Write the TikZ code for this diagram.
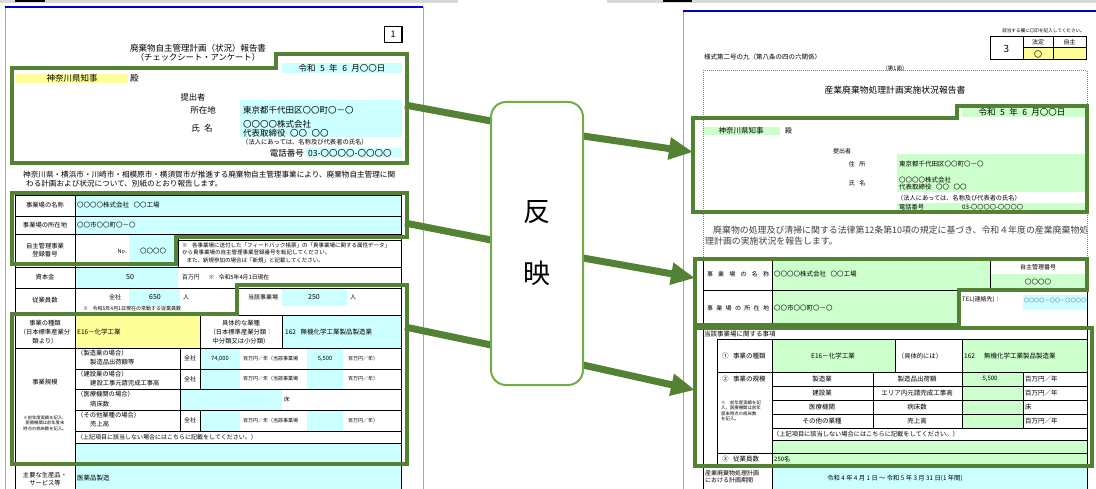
\documentclass[tikz,border=0pt]{standalone}
\usepackage{fontspec}
\setmainfont{Noto Sans CJK JP}
\usetikzlibrary{arrows.meta}
\definecolor{ngreen}{RGB}{84,130,53}
\definecolor{lgreen}{RGB}{112,173,71}
\definecolor{cyanc}{RGB}{204,255,255}
\definecolor{yellowc}{RGB}{255,255,153}
\definecolor{mintc}{RGB}{204,255,204}
\definecolor{pagetop}{RGB}{0,0,204}
\definecolor{pageside}{RGB}{153,153,255}
\definecolor{barg}{RGB}{217,217,217}
\definecolor{telc}{RGB}{90,110,170}
\newcommand{\fsz}[1]{\fontsize{#1}{#1}\selectfont}
\newcommand{\gp}{\hspace{4.5pt}}

\begin{document}
\begin{tikzpicture}[x=1pt, y=-1pt, line join=miter]
    \tikzstyle{txt}=[inner sep=0pt, font=\fsz{6.5}]
    \tikzstyle{txtw}=[txt, anchor=west]
    \tikzstyle{txte}=[txt, anchor=east]
    \tikzstyle{tline}=[draw=black, line width=0.6pt]
    \tikzstyle{gbox}=[draw=ngreen, line width=4pt]
    \tikzstyle{link}=[draw=ngreen, line width=7pt]
    \tikzstyle{linkarr}=[link, -{Triangle[length=24pt,width=21pt]}]
    \tikzstyle{fanbox}=[draw=lgreen, line width=2pt, fill=white, rounded corners=15pt,
                        minimum width=92pt, minimum height=283pt, inner sep=0pt, align=center]

    \useasboundingbox (0,0) rectangle (1096,489);

    % page frames
    \fill[barg] (0,0) rectangle (458,3);
    \fill[black] (15,0) rectangle (45,2);
    \fill[barg] (607,0) rectangle (1096,3);
    \fill[black] (663,0) rectangle (692,2);
    \draw[pageside, line width=1pt] (5,7) -- (5,489) (423,7) -- (423,489) (683,11) -- (683,489);
    \draw[pagetop, line width=1.2pt] (5,7) -- (423,7) (683,11) -- (1096,11);

    % left sheet: fills
    \fill[cyanc] (282,63) rectangle (402,73);
    \fill[yellowc] (15,74) rectangle (128,83);
    \fill[cyanc] (240,100) rectangle (402,137);
    \fill[cyanc] (306,148) rectangle (402,158);
    \fill[cyanc] (75,195) rectangle (401,234);
    \fill[cyanc] (129,234) rectangle (178,267);
    \fill[cyanc] (75,267) rectangle (178,288);
    \fill[cyanc] (129,288) rectangle (180,306);
    \fill[cyanc] (282,288) rectangle (347,306);
    \fill[yellowc] (76,315) rectangle (200,348);
    \fill[cyanc] (282,315) rectangle (401,348);
    \fill[cyanc] (200,348) rectangle (240,369);
    \fill[cyanc] (307,348) rectangle (343,369);
    \fill[cyanc] (200,369) rectangle (240,389);
    \fill[cyanc] (307,369) rectangle (343,389);
    \fill[cyanc] (180,389) rectangle (282,410);
    \fill[cyanc] (200,410) rectangle (240,431);
    \fill[cyanc] (307,410) rectangle (343,431);
    \fill[cyanc] (75,443) rectangle (401,489);

    % left sheet: rules
    \draw[tline] (15,195) -- (401,195) (15,216) -- (401,216) (15,234) -- (401,234) (15,267) -- (401,267)
                 (15,288) -- (401,288) (15,315) -- (401,315) (15,348) -- (401,348) (15,463) -- (401,463);
    \draw[tline] (75,369) -- (401,369) (75,389) -- (401,389) (75,410) -- (401,410) (75,431) -- (401,431) (75,443) -- (401,443);
    \draw[tline] (15,195) -- (15,489) (75,195) -- (75,489) (401,195) -- (401,489);
    \draw[tline] (178,234) -- (178,267) (178,240) -- (401,240) (237,288) -- (237,315) (200,315) -- (200,348) (282,315) -- (282,348)
                 (180,348) -- (180,431) (200,348) -- (200,389) (200,410) -- (200,431);

    % left sheet: head
    \node[draw, line width=0.6pt, minimum width=17pt, minimum height=16pt, inner sep=0pt, font=\fsz{9}] (pgno) at (393,34) {1};
    \draw[line width=1.5pt] (pgno.north east) -- (pgno.south east) -- (pgno.south west);
    \node[txt, font=\fsz{8.5}] (lttl) at (198,48) {廃棄物自主管理計画（状況）報告書};
    \node[txt, font=\fsz{8.3}] (lsub) at (198,57) {（チェックシート・アンケート）};
    \node[txt, font=\fsz{8.5}] (ldate) at (342,68) {令和\gp 5\gp 年\gp 6\gp 月〇〇日};
    \node[txt, font=\fsz{8.5}] (lgov) at (72,78.5) {神奈川県知事};
    \node[txtw, font=\fsz{8.5}] (ldono) at (130,78.5) {殿};
    \node[txt, font=\fsz{8.3}] (lsubm) at (193,97) {提出者};
    \node[txt, font=\fsz{8.5}] (laddk) at (203,110) {所在地};
    \node[txt, font=\fsz{8.5}] (lnamek) at (202,128) {氏\gp 名};
    \node[txtw, font=\fsz{8.5}] (laddv) at (243,110) {東京都千代田区〇〇町〇－〇};
    \node[txtw, font=\fsz{8.5}] (lco) at (243,124) {〇〇〇〇株式会社};
    \node[txtw, font=\fsz{8.5}] (lrep) at (243,133) {代表取締役\gp 〇〇\gp 〇〇};
    \node[txtw, font=\fsz{6.3}] (lcorp) at (242,142) {（法人にあっては、名称及び代表者の氏名）};
    \node[txte, font=\fsz{8.5}] (ltelk) at (304,153) {電話番号};
    \node[txtw, font=\fsz{8.5}] (ltelv) at (308,153) {03-〇〇〇〇-〇〇〇〇};
    \node[txtw, font=\fsz{7.6}] (lpar1) at (23,175) {神奈川県・横浜市・川崎市・相模原市・横須賀市が推進する廃棄物自主管理事業により、廃棄物自主管理に関};
    \node[txtw, font=\fsz{7.6}] (lpar2) at (26,184) {わる計画および状況について、別紙のとおり報告します。};

    % left sheet: table text
    \node[txt, font=\fsz{6.3}] (lnm) at (45,205.5) {事業場の名称};
    \node[txtw] (lnmv) at (77,205.5) {〇〇〇〇株式会社\gp 〇〇工場};
    \node[txt, font=\fsz{6.3}] (lloc) at (45,225) {事業場の所在地};
    \node[txtw] (llocv) at (77,225) {〇〇市〇〇町〇－〇};
    \node[txt, align=center, font={\fontsize{6.3}{8}\selectfont}] (lreg) at (45,250) {自主管理事業\\登録番号};
    \node[txt, font=\fsz{5.5}] (lno) at (122,252) {No.};
    \node[txt] (lnov) at (153,251) {〇〇〇〇};
    \node[txtw, font=\fsz{5.5}] (lnote1) at (182,245) {※\gp 各事業場に送付した「フィードバック帳票」の「貴事業場に関する属性データ」};
    \node[txtw, font=\fsz{5.5}] (lnote2) at (182,252.5) {から貴事業場の自主管理事業登録番号を転記してください。};
    \node[txtw, font=\fsz{5.5}] (lnote3) at (182,260) {\gp また、新規参加の場合は「新規」と記載してください。};
    \node[txt, font=\fsz{6.3}] (lcap) at (45,277) {資本金};
    \node[txt, font=\fsz{7}] (lcapv) at (130,277) {50};
    \node[txtw, font=\fsz{5.8}] (lcapu) at (182,277) {百万円\gp\gp ※\gp 令和5年4月1日現在};
    \node[txt, font=\fsz{6.3}] (lemp) at (45,300) {従業員数};
    \node[txt, font=\fsz{6}] (lall) at (115,297) {全社};
    \node[txt, font=\fsz{7}] (lallv) at (155,297) {650};
    \node[txtw, font=\fsz{6}] (lallu) at (183,297) {人};
    \node[txtw, font=\fsz{5}] (lempn) at (83,309) {※\gp 令和5年4月1日現在の常勤する従業員数};
    \node[txt, font=\fsz{6}] (lsite) at (263,297) {当該事業場};
    \node[txt, font=\fsz{7}] (lsitev) at (314,297) {250};
    \node[txtw, font=\fsz{6}] (lsiteu) at (350,297) {人};
    \node[txt, align=center, font={\fontsize{6.3}{9}\selectfont}] (lkind) at (45,332) {事業の種類\\（日本標準産業分\\類より）};
    \node[txtw] (lkindv) at (77,332) {E16－化学工業};
    \node[txt, align=center, font={\fontsize{6.3}{9}\selectfont}] (lspec) at (241,332) {具体的な業種\\（日本標準産業分類：\\中分類又は小分類）};
    \node[txtw] (lspecv) at (285,332) {162\gp 無機化学工業製品製造業};
    \node[txt, font=\fsz{6.3}] (lscale) at (45,382) {事業規模};
    \node[txt, align=center, font={\fontsize{4.3}{5.5}\selectfont}] (lscalen) at (45,423) {※前年度実績を記入、\\医療機関は前年度末\\時点の病床数を記入。};
    \node[txtw, font=\fsz{6.3}] (lm1) at (77,353) {（製造業の場合）};
    \node[txtw, font=\fsz{6.3}] (lm2) at (90,362) {製造品出荷額等};
    \node[txtw, font=\fsz{6.3}] (lc1) at (77,374) {（建設業の場合）};
    \node[txtw, font=\fsz{6.3}] (lc2) at (90,383) {建設工事元請完成工事高};
    \node[txtw, font=\fsz{6.3}] (lh1) at (77,394) {（医療機関の場合）};
    \node[txtw, font=\fsz{6.3}] (lh2) at (90,404) {病床数};
    \node[txtw, font=\fsz{6.3}] (lo1) at (77,415) {（その他業種の場合）};
    \node[txtw, font=\fsz{6.3}] (lo2) at (90,424) {売上高};
    \node[txt, font=\fsz{6}] (lma) at (190,358.5) {全社};
    \node[txt, font=\fsz{6}] (lca) at (190,379) {全社};
    \node[txt, font=\fsz{6}] (loa) at (190,420.5) {全社};
    \node[txt, font=\fsz{5.8}] (lmav) at (220,358.5) {74,000};
    \node[txtw, font=\fsz{5}] (lmau) at (243,358.5) {百万円／年（当該事業場};
    \node[txtw, font=\fsz{5}] (lcau) at (243,379) {百万円／年（当該事業場};
    \node[txtw, font=\fsz{5}] (loau) at (243,420.5) {百万円／年（当該事業場};
    \node[txt, font=\fsz{5.8}] (lmsv) at (325,358.5) {5,500};
    \node[txtw, font=\fsz{5}] (lmsu) at (348,358.5) {百万円／年）};
    \node[txtw, font=\fsz{5}] (lcsu) at (348,379) {百万円／年）};
    \node[txtw, font=\fsz{5}] (losu) at (348,420.5) {百万円／年）};
    \node[txtw, font=\fsz{5.5}] (lbed) at (284,399.5) {床};
    \node[txtw, font=\fsz{6}] (lelse) at (77,437) {（上記項目に該当しない場合にはこちらに記載をしてください。）};
    \node[txt, align=center, font={\fontsize{6.3}{8.5}\selectfont}] (lprod) at (45,479) {主要な生産品・\\サービス等};
    \node[txtw] (lprodv) at (77,478) {医薬品製造};

    % right sheet: fills
    \fill[mintc] (962,107) rectangle (1085,117);
    \fill[mintc] (703,127) rectangle (780,135);
    \fill[mintc] (897,154) rectangle (1087,192);
    \fill[mintc] (897,203) rectangle (1087,212);
    \fill[mintc] (772,258) rectangle (990,290);
    \fill[mintc] (990,274) rectangle (1087,290);
    \fill[mintc] (772,290) rectangle (959,327);
    \fill[cyanc] (1023,295) rectangle (1087,310);
    \fill[mintc] (772,339) rectangle (895,372);
    \fill[mintc] (962,339) rectangle (1087,372);
    \fill[mintc] (962,372) rectangle (1023,428);
    \fill[mintc] (772,440) rectangle (1087,465);
    \fill[cyanc] (772,465) rectangle (1087,489);
    \fill[yellowc] (1023,47) rectangle (1086,60);

    % right sheet: rules
    \draw[gray, densely dotted, line width=1pt] (703,489) -- (703,71) -- (1087,71) -- (1087,489);
    \draw[tline] (703,258) -- (1087,258) (703,290) -- (1087,290) (703,327) -- (1087,327) (717,339) -- (1087,339)
                 (717,372) -- (1087,372) (772,386) -- (1087,386) (772,400) -- (1087,400) (772,414) -- (1087,414)
                 (772,428) -- (1087,428) (772,440) -- (1087,440) (717,453) -- (1087,453) (703,465) -- (1087,465);
    \draw[tline] (703,258) -- (703,489) (772,258) -- (772,327) (990,258) -- (990,290) (959,290) -- (959,327)
                 (1087,258) -- (1087,489) (717,339) -- (717,465) (772,339) -- (772,489) (895,339) -- (895,372)
                 (962,339) -- (962,372) (873,372) -- (873,428) (962,372) -- (962,428) (1023,372) -- (1023,428);
    \draw[line width=1pt] (990,37) rectangle (1086,60);
    \draw[tline] (1023,37) -- (1023,60) (1053,37) -- (1053,60) (1023,47) -- (1086,47);

    % right sheet: head
    \node[txte, font=\fsz{4.6}] (rhint) at (1085,31) {該当する欄に〇印を記入してください。};
    \node[txt, font=\fsz{10}] (rno) at (1006.5,48.5) {3};
    \node[txt, font=\fsz{6}] (rlaw) at (1038,42) {法定};
    \node[txt, font=\fsz{6}] (rvol) at (1069.5,42) {自主};
    \node[txt, font=\fsz{8}] (rmark) at (1038,54) {〇};
    \node[txtw, font=\fsz{6.5}] (rform) at (704,57) {様式第二号の九（第八条の四の六関係）};
    \node[txt, font=\fsz{5.5}] (rface) at (895,68) {（第1面）};
    \node[txt, font=\fsz{8.8}] (rttl) at (895,90) {産業廃棄物処理計画実施状況報告書};
    \node[txt, font=\fsz{8.5}] (rdate) at (1022,112) {令和\gp 5\gp 年\gp 6\gp 月〇〇日};
    \node[txt, font=\fsz{7.5}] (rgov) at (741,131) {神奈川県知事};
    \node[txtw, font=\fsz{7}] (rdono) at (785,131) {殿};
    \node[txt, font=\fsz{6}] (rsubm) at (842,151) {提出者};
    \node[txt, font=\fsz{6}] (raddk) at (857,164) {住\gp 所};
    \node[txt, font=\fsz{6}] (rnamek) at (857,183) {氏\gp 名};
    \node[txtw, font=\fsz{6.5}] (raddv) at (899,164) {東京都千代田区〇〇町〇－〇};
    \node[txtw, font=\fsz{6.5}] (rco) at (899,180) {〇〇〇〇株式会社};
    \node[txtw, font=\fsz{6.5}] (rrep) at (899,187) {代表取締役\gp 〇〇\gp 〇〇};
    \node[txtw, font=\fsz{6.2}] (rcorp) at (897,198) {（法人にあっては、名称及び代表者の氏名）};
    \node[txtw, font=\fsz{6.2}] (rtelk) at (899,207) {電話番号};
    \node[txtw, font=\fsz{6.2}] (rtelv) at (962,207) {03-〇〇〇〇-〇〇〇〇};
    \node[txtw, font=\fsz{8.9}, text=black!75] (rpar1) at (705,230) {\hspace{8pt}廃棄物の処理及び清掃に関する法律第12条第10項の規定に基づき、令和４年度の産業廃棄物処};
    \node[txtw, font=\fsz{8.9}, text=black!75] (rpar2) at (705,241) {理計画の実施状況を報告します。};

    % right sheet: table text
    \node[txt, font=\fsz{6}] (rnm) at (738,274) {\hbox to 62pt{事\hfil 業\hfil 場\hfil の\hfil 名\hfil 称}};
    \node[txt, font=\fsz{6}] (rloc) at (738,308) {\hbox to 62pt{事\hfil 業\hfil 場\hfil の\hfil 所\hfil 在\hfil 地}};
    \node[txtw] (rnmv) at (774,274) {〇〇〇〇株式会社\gp 〇〇工場};
    \node[txtw] (rlocv) at (774,308) {〇〇市〇〇町〇－〇};
    \node[txt, font=\fsz{6}] (rreg) at (1038,267) {自主管理番号};
    \node[txt] (rregv) at (1038,282) {〇〇〇〇};
    \node[txtw, font=\fsz{6}] (rtel) at (962,300) {TEL(連絡先)：};
    \node[txt, font=\fsz{5.2}, text=telc] (rtelv2) at (1055,301) {〇〇〇〇－〇〇－〇〇〇〇};
    \node[txtw, font=\fsz{6.5}] (rsite) at (704,334) {当該事業場に関する事項};
    \node[txtw, font=\fsz{6.5}] (rkind) at (722,356) {①\gp 事業の種類};
    \node[txt] (rkindv) at (833,356) {E16－化学工業};
    \node[txt, font=\fsz{6.3}] (rspec) at (920,356) {（具体的には）};
    \node[txtw] (rspecv) at (964,356) {162\gp\gp 無機化学工業製品製造業};
    \node[txtw, font=\fsz{6.5}] (rscale) at (722,379) {②\gp 事業の規模};
    \node[txtw, align=left, font={\fontsize{4.4}{5.4}\selectfont}] (rscalen) at (721,411) {※\gp 前年度実績を記\\入、医療機関は前年\\度末時点の病床数\\を記入。};
    \node[txt] (rm1) at (822,379) {製造業};
    \node[txt] (rm2) at (917,379) {製造品出荷額};
    \node[txt, font=\fsz{6}] (rm3) at (990,379) {5,500};
    \node[txtw] (rm4) at (1025,379) {百万円／年};
    \node[txt] (rc1) at (822,393) {建設業};
    \node[txt] (rc2) at (917,393) {エリア内元請完成工事高};
    \node[txtw] (rc4) at (1025,393) {百万円／年};
    \node[txt] (rh1) at (822,407) {医療機関};
    \node[txt] (rh2) at (917,407) {病床数};
    \node[txtw] (rh4) at (1025,407) {床};
    \node[txt] (ro1) at (822,421) {その他の業種};
    \node[txt] (ro2) at (917,421) {売上高};
    \node[txtw] (ro4) at (1025,421) {百万円／年};
    \node[txtw, font=\fsz{6.2}] (relse) at (773,434) {（上記項目に該当しない場合にはこちらに記載をしてください。）};
    \node[txtw, font=\fsz{6.5}] (remp) at (722,459) {③\gp 従業員数};
    \node[txtw, font=\fsz{6}] (rempv) at (774,459) {250名};
    \node[txtw, align=left, font={\fontsize{6}{7.2}\selectfont}] (rterm) at (705,477) {産業廃棄物処理計画\\における計画期間};
    \node[txt, font=\fsz{6.3}] (rtermv) at (895,478) {令和 4 年 4 月 1 日 ～ 令和 5 年 3 月 31 日(1 年間)};

    % green outlines
    \draw[gbox] (12,68) -- (276,68) -- (276,54) -- (407,54) -- (407,163) -- (12,163) -- cycle;
    \draw[gbox] (12,193) -- (407,193) -- (407,237) -- (176,237) -- (176,264) -- (12,264) -- cycle;
    \draw[gbox] (237,285) -- (407,285) -- (407,464) -- (12,464) -- (12,314) -- (237,314) -- cycle;
    \draw[gbox] (693,118) -- (957,118) -- (957,106) -- (1087,106) -- (1087,212) -- (693,212) -- cycle;
    \draw[gbox] (695,259) -- (1087,259) -- (1087,290) -- (959,290) -- (959,325) -- (695,325) -- cycle;
    \draw[gbox] (695,328) rectangle (1092,466);

    % links through the centre box
    \coordinate (s1) at (405,105); \coordinate (t1) at (491,121);
    \coordinate (u1) at (583,136); \coordinate (e1) at (693,152);
    \coordinate (s2) at (405,223); \coordinate (t2) at (491,240);
    \coordinate (u2) at (583,258); \coordinate (e2) at (695,278);
    \coordinate (s3) at (405,327); \coordinate (t3) at (491,345);
    \coordinate (u3) at (583,365); \coordinate (e3) at (695,390);
    \draw[link] (s1) -- (t1);
    \draw[link] (s2) -- (t2);
    \draw[link] (s3) -- (t3);
    \draw[linkarr] (u1) -- (e1);
    \draw[linkarr] (u2) -- (e2);
    \draw[linkarr] (u3) -- (e3);

    \node[fanbox, font={\fontsize{27}{62}\selectfont}] (fan) at (537,243.5) {反\\映};
\end{tikzpicture}
\end{document}
